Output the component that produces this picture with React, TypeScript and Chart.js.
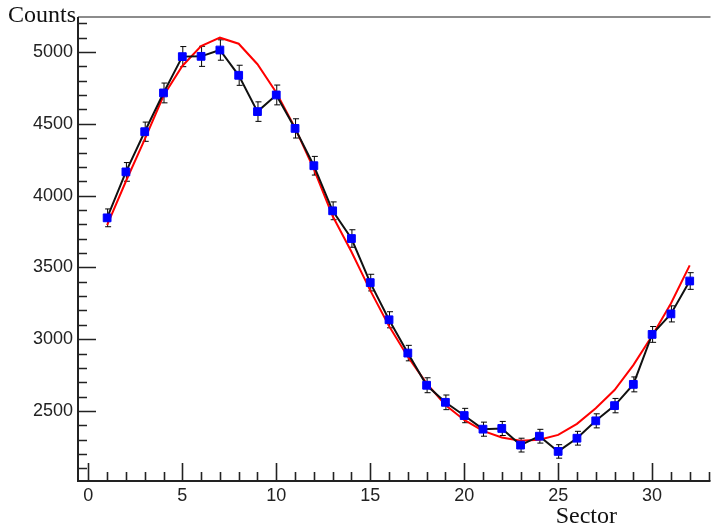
import React, { useEffect, useRef } from "react";
import { Chart, registerables } from "chart.js";

Chart.register(...registerables);

// Sector numbers and measured counts per sector
const sectors = [1, 2, 3, 4, 5, 6, 7, 8, 9, 10, 11, 12, 13, 14, 15, 16, 17, 18, 19, 20, 21, 22, 23, 24, 25, 26, 27, 28, 29, 30, 31, 32];
const counts = [3845, 4165, 4445, 4715, 4968, 4970, 5014, 4838, 4585, 4701, 4468, 4208, 3894, 3701, 3394, 3135, 2903, 2679, 2560, 2468, 2373, 2378, 2262, 2324, 2218, 2310, 2431, 2537, 2685, 3033, 3176, 3405];
const countErrors = [62, 65, 67, 69, 70, 70, 71, 70, 68, 69, 67, 65, 62, 61, 58, 56, 54, 52, 51, 50, 49, 49, 48, 48, 47, 48, 49, 50, 52, 55, 56, 58];
// Fitted curve evaluated at each sector
const fitCounts = [3795, 4100, 4392, 4695, 4903, 5042, 5100, 5058, 4915, 4718, 4472, 4185, 3858, 3609, 3340, 3092, 2878, 2692, 2542, 2437, 2361, 2315, 2292, 2299, 2333, 2410, 2519, 2646, 2819, 3024, 3248, 3514];

const xTickLabels = [0, 5, 10, 15, 20, 25, 30];
const yTickLabels = [2500, 3000, 3500, 4000, 4500, 5000];
const xMinorStep = 1;
const yMinorStep = 100;

const X_MIN = -0.55;
const X_MAX = 33.0;
const Y_MIN = 2012;
const Y_MAX = 5244;

const framePlugin = {
  id: "frameAndErrors",
  beforeDatasetsDraw(chart: any) {
    const ctx = chart.ctx;
    const xs = chart.scales.x;
    const ys = chart.scales.y;
    ctx.save();
    ctx.strokeStyle = "#000";
    ctx.lineWidth = 1;
    const cap = 2.5;
    for (let i = 0; i < sectors.length; i++) {
      const px = xs.getPixelForValue(sectors[i]);
      const pTop = ys.getPixelForValue(counts[i] + countErrors[i]);
      const pBot = ys.getPixelForValue(counts[i] - countErrors[i]);
      ctx.beginPath();
      ctx.moveTo(px + 0.5, pTop);
      ctx.lineTo(px + 0.5, pBot);
      ctx.moveTo(px + 0.5 - cap, pTop);
      ctx.lineTo(px + 0.5 + cap + 1, pTop);
      ctx.moveTo(px + 0.5 - cap, pBot);
      ctx.lineTo(px + 0.5 + cap + 1, pBot);
      ctx.stroke();
    }
    ctx.restore();
  },
  afterDraw(chart: any) {
    const ctx = chart.ctx;
    const area = chart.chartArea;
    const xs = chart.scales.x;
    const ys = chart.scales.y;
    ctx.save();

    // top frame line
    ctx.strokeStyle = "#666";
    ctx.lineWidth = 1.5;
    ctx.beginPath();
    ctx.moveTo(area.left, area.top);
    ctx.lineTo(area.right + 2, area.top);
    ctx.stroke();

    // axis lines
    ctx.strokeStyle = "#222";
    ctx.lineWidth = 2;
    ctx.beginPath();
    ctx.moveTo(area.left, area.top);
    ctx.lineTo(area.left, area.bottom + 1);
    ctx.moveTo(area.left - 1, area.bottom);
    ctx.lineTo(area.right + 2, area.bottom);
    ctx.stroke();

    // inward ticks on the y axis
    ctx.lineWidth = 1.6;
    ctx.beginPath();
    for (let v = Math.ceil(Y_MIN / yMinorStep) * yMinorStep; v <= Y_MAX; v += yMinorStep) {
      const py = Math.round(ys.getPixelForValue(v)) + 0.5;
      const major = yTickLabels.includes(v);
      ctx.moveTo(area.left, py);
      ctx.lineTo(area.left + (major ? 18 : 9), py);
    }
    // inward ticks on the x axis
    for (let v = Math.ceil(X_MIN / xMinorStep) * xMinorStep; v <= X_MAX; v += xMinorStep) {
      const px = Math.round(xs.getPixelForValue(v)) + 0.5;
      const major = xTickLabels.includes(v);
      ctx.moveTo(px, area.bottom);
      ctx.lineTo(px, area.bottom - (major ? 18 : 9));
    }
    ctx.stroke();

    // axis titles
    ctx.fillStyle = "#111";
    ctx.font = '24px "Liberation Serif", "Times New Roman", serif';
    ctx.textBaseline = "alphabetic";
    ctx.textAlign = "left";
    ctx.fillText("Counts", 8, 22);
    ctx.textAlign = "right";
    ctx.fillText("Sector", 617, 523);
    ctx.restore();
  },
};

export default function App() {
  const canvasRef = useRef<HTMLCanvasElement | null>(null);

  useEffect(() => {
    if (!canvasRef.current) return;
    const tickFont = { family: '"Liberation Sans", Arial, sans-serif', size: 18 };
    const chart = new Chart(canvasRef.current, {
      type: "line",
      data: {
        datasets: [
          {
            label: "Counts",
            data: sectors.map((s, i) => ({ x: s, y: counts[i] })),
            borderColor: "#111",
            borderWidth: 2,
            pointStyle: "rect",
            pointRadius: 5.5,
            pointBorderWidth: 1,
            pointBackgroundColor: "#0000ff",
            pointBorderColor: "#0000ff",
            tension: 0,
          },
          {
            label: "Fit",
            data: sectors.map((s, i) => ({ x: s, y: fitCounts[i] })),
            borderColor: "#ff0000",
            borderWidth: 2,
            pointRadius: 0,
            tension: 0,
          },
        ],
      },
      options: {
        animation: false,
        responsive: true,
        maintainAspectRatio: false,
        layout: { padding: { left: 0, top: 17, right: 1, bottom: 0 } },
        plugins: { legend: { display: false }, tooltip: { enabled: false }, title: { display: false } },
        scales: {
          x: {
            type: "linear",
            min: X_MIN,
            max: X_MAX,
            grid: { display: false, drawTicks: false },
            border: { display: false },
            afterBuildTicks: (scale: any) => {
              scale.ticks = xTickLabels.map((v) => ({ value: v }));
            },
            afterFit: (scale: any) => {
              scale.height = 50;
            },
            ticks: {
              font: tickFont,
              color: "#222",
              padding: 4,
              maxRotation: 0,
              autoSkip: false,
              callback: (v: any) => String(v),
            },
          },
          y: {
            type: "linear",
            min: Y_MIN,
            max: Y_MAX,
            grid: { display: false, drawTicks: false },
            border: { display: false },
            afterBuildTicks: (scale: any) => {
              scale.ticks = yTickLabels.map((v) => ({ value: v }));
            },
            afterFit: (scale: any) => {
              scale.width = 78;
            },
            ticks: {
              font: tickFont,
              color: "#222",
              padding: 5,
              autoSkip: false,
              callback: (v: any) => String(v),
            },
          },
        },
      },
      plugins: [framePlugin],
    } as any);
    return () => chart.destroy();
  }, []);

  return (
    <div style={{ position: "absolute", left: 0, top: 0, width: 715, height: 531, background: "#fff" }}>
      <canvas ref={canvasRef} />
    </div>
  );
}
